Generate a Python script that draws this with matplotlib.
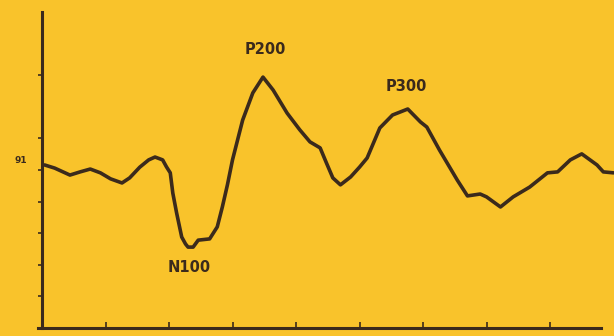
import matplotlib
matplotlib.use("Agg")
import matplotlib.pyplot as plt

# Averaged evoked potential: latency (ms) vs amplitude (arbitrary µV units)
latency_ms = [2, 10, 22, 30, 38, 46, 54, 63, 69, 77, 84, 89, 95, 98, 101, 103,
              106, 110, 113, 115, 119, 123, 132, 138, 142, 146, 150, 154, 158,
              166, 174, 182, 193, 203, 211, 219, 224, 229, 235, 243, 250, 256,
              266, 276, 288, 298, 303, 313, 327, 335, 345, 350, 361, 371, 384,
              398, 406, 416, 425, 437, 442, 450]
amplitude = [5.16, 5.06, 4.84, 4.94, 5.03, 4.91, 4.72, 4.59, 4.75, 5.09, 5.32,
             5.41, 5.32, 5.10, 4.91, 4.27, 3.64, 2.88, 2.66, 2.56, 2.56, 2.78,
             2.82, 3.20, 3.83, 4.53, 5.32, 5.95, 6.58, 7.44, 7.94, 7.53, 6.80,
             6.27, 5.89, 5.70, 5.22, 4.75, 4.53, 4.78, 5.09, 5.38, 6.33, 6.74,
             6.93, 6.52, 6.36, 5.63, 4.68, 4.18, 4.24, 4.15, 3.83, 4.15, 4.46,
             4.91, 4.94, 5.32, 5.51, 5.16, 4.94, 4.91]

peak_names = ["N100", "P200", "P300"]
peak_label_pos = [(116, 1.9), (176, 8.8), (287, 7.65)]

x_ticks = [50, 100, 150, 200, 250, 300, 350, 400]
y_ticks = [1, 2, 3, 4, 5, 6, 8]

bg = "#F9C32B"
ink = "#3B2A1C"

W, H = 614, 336
fig = plt.figure(figsize=(W / 100, H / 100), dpi=100, facecolor=bg)
ax = fig.add_axes([42 / W, 8 / H, 571.5 / W, 316 / H], facecolor=bg)

ax.plot(latency_ms, amplitude, color=ink, lw=2.6, solid_joinstyle="round",
        solid_capstyle="round")

ax.set_xlim(0, 450)
ax.set_ylim(0, 10)

for s in ["top", "right"]:
    ax.spines[s].set_visible(False)
for s in ["left", "bottom"]:
    ax.spines[s].set_color(ink)
    ax.spines[s].set_linewidth(2.2)
ax.spines["bottom"].set_bounds(-3, 440)

ax.set_xticks(x_ticks)
ax.set_xticklabels([])
ax.set_yticks(y_ticks)
ax.set_yticklabels([])
ax.tick_params(axis="x", direction="in", length=4, width=1.2, color=ink)
ax.tick_params(axis="y", direction="out", length=3, width=1.2, color=ink)

for name, (tx, ty) in zip(peak_names, peak_label_pos):
    ax.text(tx, ty, name, ha="center", va="center", fontsize=10.5,
            fontweight="bold", color=ink, family="DejaVu Sans")

ax.text(-17, 5.3, "91", ha="center", va="center", fontsize=6.5,
        fontweight="bold", color=ink, clip_on=False)

fig.savefig("out.png", dpi=100, facecolor=bg)
